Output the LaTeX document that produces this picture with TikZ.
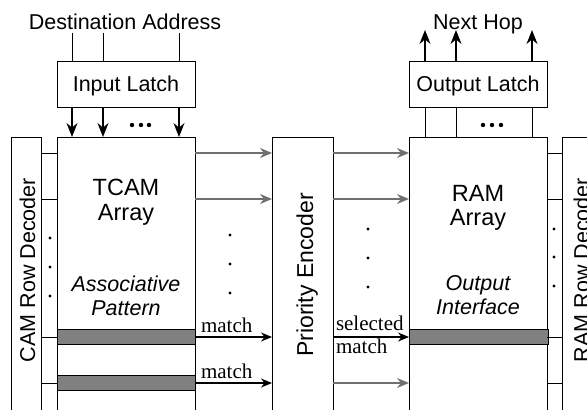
\documentclass[tikz,border=0pt]{standalone}
\usepackage{fontspec}
\setmainfont{Liberation Sans}
\newfontfamily\serifface{Liberation Serif}
\usetikzlibrary{arrows.meta}
\definecolor{arrowgray}{RGB}{112,112,112}
\definecolor{bargray}{RGB}{128,128,128}
\begin{document}
\begin{tikzpicture}[x=1pt,y=-1pt,
  every node/.style={inner sep=0pt, outer sep=0pt},
  blk/.style={draw, line width=1pt, anchor=north west},
  latch/.style={draw, line width=1pt, minimum width=138pt, minimum height=46pt, anchor=north west},
  lbl/.style={font=\fontsize{21.5}{24}\selectfont, anchor=base},
  big/.style={font=\fontsize{23.5}{27}\selectfont, anchor=base},
  ital/.style={font=\fontsize{21.5}{24}\selectfont\itshape, anchor=base},
  rot/.style={rotate=90, anchor=base},
  serl/.style={font=\serifface\fontsize{21}{24}\selectfont, anchor=base west},
  bar/.style={draw, line width=1pt, fill=bargray, minimum height=15pt, anchor=west},
  wire/.style={line width=1pt},
  barrow/.style={line width=1.2pt, -{Stealth[length=14pt,width=11pt]}},
  marrow/.style={line width=1.2pt, -{Stealth[length=11pt,width=9pt]}},
  garrow/.style={line width=1.4pt, draw=arrowgray, -{Stealth[length=12pt,width=10pt,fill=arrowgray]}},
  vdot/.style={fill=black, draw=none}
]
\useasboundingbox (0,0) rectangle (587,410);
\clip (0,0) rectangle (587,410);

% rows and columns
\coordinate (r1) at (0,153);
\coordinate (r2) at (0,199);
\coordinate (r3) at (0,337);
\coordinate (r4) at (0,383);
\coordinate (c1) at (72,0);
\coordinate (c2) at (103,0);
\coordinate (c3) at (179,0);
\coordinate (d1) at (425,0);
\coordinate (d2) at (456,0);
\coordinate (d3) at (532,0);
\coordinate (topin) at (0,33);
\coordinate (topout) at (0,30);

% tall blocks
\node[blk, minimum width=30pt, minimum height=283pt] (ldec) at (11,137) {};
\node[blk, minimum width=138pt, minimum height=283pt] (tcam) at (57,137) {};
\node[blk, minimum width=61pt, minimum height=283pt] (pe) at (272,137) {};
\node[blk, minimum width=138pt, minimum height=283pt] (ram) at (409,137) {};
\node[blk, minimum width=40pt, minimum height=283pt] (rdec) at (562,137) {};

% latches
\node[latch] (inl) at (57,61) {};
\node[latch] (outl) at (409,61) {};

% bars
\node[bar, minimum width=138pt] (bar1) at (tcam.west |- r3) {};
\node[bar, minimum width=138pt] (bar2) at (tcam.west |- r4) {};
\node[bar, minimum width=139pt] (bar3) at (ram.west |- r3) {};

% texts
\node[lbl] (dest) at (125,29.5) {Destination Address};
\node[lbl] (nhop) at (478,29.5) {Next Hop};
\node[lbl] (intxt) at (126,91) {Input Latch};
\node[lbl] (outtxt) at (478,91) {Output Latch};
\node[big] (tcamt1) at (126,195) {TCAM};
\node[big] (tcamt2) at (126,220) {Array};
\node[big] (ramt1) at (478,201) {RAM};
\node[big] (ramt2) at (478,225) {Array};
\node[ital] (assoc1) at (126,291) {Associative};
\node[ital] (assoc2) at (126,315) {Pattern};
\node[ital] (outi1) at (478,290) {Output};
\node[ital] (outi2) at (478,314) {Interface};
\node[rot, font=\fontsize{21.5}{24}\selectfont] (ldect) at (35,270) {CAM Row Decoder};
\node[rot, font=\fontsize{21.5}{24}\selectfont] (rdect) at (589,270) {RAM Row Decoder};
\node[rot, font=\fontsize{23}{26}\selectfont] (pet) at (313,275) {Priority Encoder};
\node[serl] (m1) at (201,332) {match};
\node[serl] (m2) at (201,378) {match};
\node[serl] (sel1) at (336,330) {selected};
\node[serl] (sel2) at (336,353) {match};

% input wires and arrows
\foreach \c in {c1,c2,c3} {
  \draw[wire] (\c |- topin) -- (inl.north -| \c);
  \draw[barrow] (inl.south -| \c) -- (tcam.north -| \c);
}
% output wires and arrows
\foreach \c in {d1,d2,d3} {
  \draw[wire] (ram.north -| \c) -- (outl.south -| \c);
  \draw[barrow] (outl.north -| \c) -- (\c |- topout);
}
% latch dots
\foreach \x in {132,141,149} \fill (\x,125) circle (2.2pt);
\foreach \x in {483,492,501} \fill (\x,125) circle (2.2pt);

% decoder wires
\foreach \r in {r1,r2,r3,r4} {
  \draw[wire] (ldec.east |- \r) -- (tcam.west |- \r);
  \draw[wire] (ram.east |- \r) -- (rdec.west |- \r);
}

% gray arrows
\foreach \r in {r1,r2} {
  \draw[garrow] (tcam.east |- \r) -- (pe.west |- \r);
  \draw[garrow] (pe.east |- \r) -- (ram.west |- \r);
}
\draw[garrow] (pe.east |- r4) -- (ram.west |- r4);

% match arrows
\draw[marrow] (bar1.east) -- (pe.west |- bar1.east);
\draw[marrow] (bar2.east) -- (pe.west |- bar2.east);
\draw[marrow] (pe.east |- r3) -- (bar3.west);

% vertical dots
\foreach \y in {238,267,296} \fill (50,\y) circle (1.7pt);
\foreach \y in {235,264,293} \fill (230,\y) circle (1.7pt);
\foreach \y in {229,258,287} \fill (368,\y) circle (1.7pt);
\foreach \y in {229,257,286} \fill (554,\y) circle (1.7pt);
\end{tikzpicture}
\end{document}
